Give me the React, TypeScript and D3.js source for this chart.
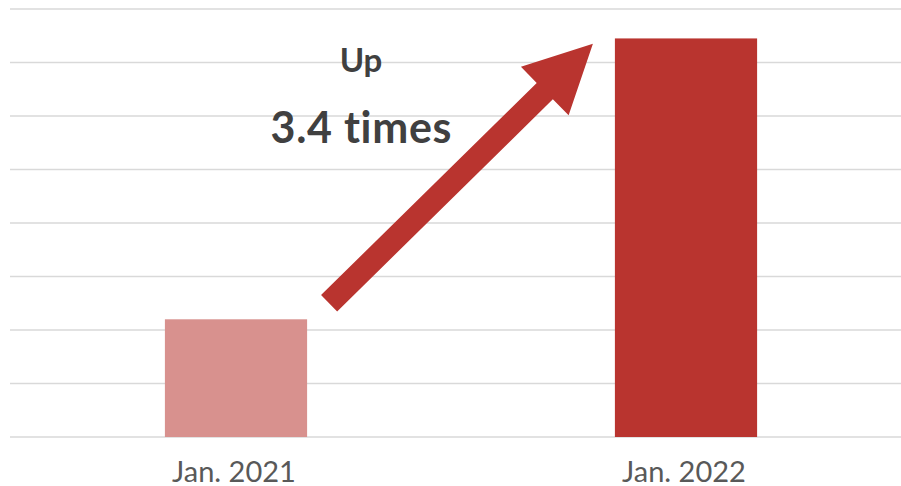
import React from "react";
import * as d3 from "d3";

const categories = ["Jan. 2021", "Jan. 2022"];
const values = [2.2, 7.45];
const barColors = ["#D8918E", "#B9342F"];
const gridTicks = [0, 1, 2, 3, 4, 5, 6, 7, 8];
const annotationTop = "Up";
const annotationMain = "3.4 times";
// arrow endpoints in data units (value axis)
const arrowFromValue = 2.5;
const arrowToValue = 7.35;

const W = 901;
const H = 486;

export default function App() {
  const x = d3
    .scaleBand<string>()
    .domain(categories)
    .range([11, 911])
    .paddingInner(0.684)
    .paddingOuter(0.342);
  const y = d3.scaleLinear().domain([0, 8]).range([437, 9]);

  const bw = x.bandwidth();
  // arrow geometry
  const tail: [number, number] = [(x(categories[0]) as number) + bw + 22, y(arrowFromValue)];
  const tip: [number, number] = [(x(categories[1]) as number) - 22, y(arrowToValue)];
  const dx = tip[0] - tail[0];
  const dy = tip[1] - tail[1];
  const len = Math.hypot(dx, dy);
  const ux = dx / len, uy = dy / len;
  const nx = -uy, ny = ux;
  const shaftHalf = 11.5;
  const headHalf = 34;
  const headLen = 67.5;
  const bx = tip[0] - ux * headLen, by = tip[1] - uy * headLen;
  const pts: [number, number][] = [
    [tail[0] + nx * shaftHalf, tail[1] + ny * shaftHalf],
    [bx + nx * shaftHalf, by + ny * shaftHalf],
    [bx + nx * headHalf, by + ny * headHalf],
    tip,
    [bx - nx * headHalf, by - ny * headHalf],
    [bx - nx * shaftHalf, by - ny * shaftHalf],
    [tail[0] - nx * shaftHalf, tail[1] - ny * shaftHalf],
  ];
  const arrowPath = d3.line()(pts) + "Z";

  const textX = (tail[0] + tip[0]) / 2 - 100;

  return (
    <svg
      width={W}
      height={H}
      style={{ position: "absolute", left: 0, top: 0, background: "#fff", fontVariantLigatures: "none" }}
      fontFamily="Lato, 'Open Sans', sans-serif"
    >
      <rect width={W} height={H} fill="#fff" />
      {gridTicks.map((t) => (
        <line key={t} x1={10} x2={W} y1={y(t)} y2={y(t)} stroke="#D9D9D9" strokeWidth={1.6} />
      ))}
      {categories.map((c, i) => (
        <rect
          key={c}
          x={x(c)}
          y={y(values[i])}
          width={bw}
          height={y(0) - y(values[i])}
          fill={barColors[i]}
        />
      ))}
      {categories.map((c) => (
        <text
          key={c}
          x={(x(c) as number) + bw / 2 - 2}
          y={481.5}
          textAnchor="middle"
          fontSize={29}
          fill="#595959"
        >
          {c}
        </text>
      ))}
      <path d={arrowPath} fill="#B9342F" />
      <text x={textX} y={72} textAnchor="middle" fontSize={33} fontWeight="bold" fill="#404040">
        {annotationTop}
      </text>
      <text x={textX} y={143} textAnchor="middle" fontSize={43} fontWeight="bold" fill="#404040" textLength={181} lengthAdjust="spacing">
        {annotationMain}
      </text>
    </svg>
  );
}
